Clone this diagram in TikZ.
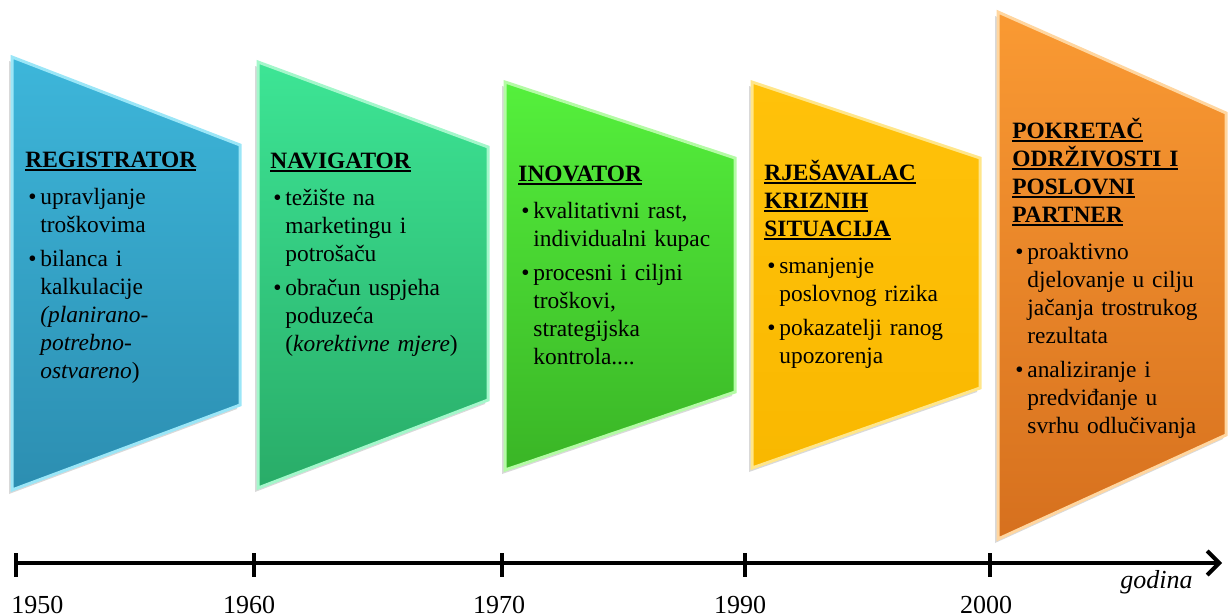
\documentclass[tikz,border=0pt]{standalone}
\usepackage{fontspec}
\setmainfont{Liberation Serif}
\usetikzlibrary{arrows.meta,shadows}

\definecolor{regtop}{HTML}{3DB6DA}
\definecolor{regbot}{HTML}{2C8EB1}
\definecolor{regedge}{HTML}{9BE6F7}
\definecolor{navtop}{HTML}{3DE595}
\definecolor{navbot}{HTML}{29AC68}
\definecolor{navedge}{HTML}{A4F7CB}
\definecolor{inotop}{HTML}{55F03C}
\definecolor{inobot}{HTML}{3AB526}
\definecolor{inoedge}{HTML}{B4FBA5}
\definecolor{rjetop}{HTML}{FFC20A}
\definecolor{rjebot}{HTML}{F9B800}
\definecolor{rjeedge}{HTML}{FFE68A}
\definecolor{poktop}{HTML}{FA9A33}
\definecolor{pokbot}{HTML}{D6701E}
\definecolor{pokedge}{HTML}{FFD6A0}

\newcommand{\phead}[1]{\setbox0=\hbox{\textbf{#1}}\rlap{\vrule width\wd0 height -0.8pt depth 1.8pt}\box0}
\newcommand{\pbullet}{\par\vspace{3pt}\hangindent=7.5pt\hangafter=1\noindent\makebox[7.5pt][l]{\hspace{1.5pt}\textbullet}}
\newcommand{\pgap}{\par\vspace{1.5pt}}

\begin{document}
\begin{tikzpicture}[x=0.5pt,y=-0.5pt]
	\tikzstyle{every node}+=[inner sep=0pt]
	\tikzset{
		panel/.style={top color=#1top, bottom color=#1bot, draw=#1edge, line width=1.5pt,
			drop shadow={shadow xshift=-1.5pt, shadow yshift=-2pt, opacity=0.3}},
		txt/.style={anchor=base west, text width=110pt, align=left,
			font=\fontsize{11.7}{14}\selectfont},
		axis/.style={line width=2pt, -{Straight Barb[length=6pt,width=12pt]}},
		tick/.style={line width=2pt},
		year/.style={anchor=base, font=\fontsize{13}{15}\selectfont}
	}
	\useasboundingbox (0,0) rectangle (1228,616);
	% panels
	\draw[panel=reg] (12,57) -- (240,145) -- (240,405) -- (12,490) -- cycle;
	\draw[panel=nav] (258,62) -- (488,147) -- (488,400) -- (258,488) -- cycle;
	\draw[panel=ino] (505,82) -- (735,158) -- (735,392) -- (505,470) -- cycle;
	\draw[panel=rje] (752,82) -- (980,158) -- (980,388) -- (752,468) -- cycle;
	\draw[panel=pok] (998,12) -- (1226,113) -- (1226,435) -- (998,539) -- cycle;
	% texts
	\node[txt] (reg) at (25,167) {\phead{REGISTRATOR}\pgap
		\pbullet upravljanje\newline troškovima
		\pbullet bilanca i\newline kalkulacije\newline \textit{(planirano-}\newline \textit{potrebno-}\newline \textit{ostvareno})\par};
	\node[txt] (nav) at (270,168) {\phead{NAVIGATOR}\pgap
		\pbullet težište na\newline marketingu i\newline potrošaču
		\pbullet obračun uspjeha\newline poduzeća\newline (\textit{korektivne mjere})\par};
	\node[txt] (ino) at (518,181) {\phead{INOVATOR}\pgap
		\pbullet kvalitativni rast,\newline individualni kupac
		\pbullet procesni i ciljni\newline troškovi,\newline strategijska\newline kontrola....\par};
	\node[txt] (rje) at (764,180) {\phead{RJEŠAVALAC}\newline \phead{KRIZNIH}\newline \phead{SITUACIJA}\pgap
		\pbullet smanjenje\newline poslovnog rizika
		\pbullet pokazatelji ranog\newline upozorenja\par};
	\node[txt] (pok) at (1012,138) {\phead{POKRETAČ}\newline \phead{ODRŽIVOSTI I}\newline \phead{POSLOVNI}\newline \phead{PARTNER}\pgap
		\pbullet proaktivno\newline djelovanje u cilju\newline jačanja trostrukog\newline rezultata
		\pbullet analiziranje i\newline predviđanje u\newline svrhu odlučivanja\par};
	% time axis
	\coordinate (axstart) at (16,563);
	\coordinate (axend) at (1222,563);
	\draw[axis] (axstart) -- (axend);
	\draw[tick] (16,553) -- (16,577);
	\draw[tick] (254,553) -- (254,577);
	\draw[tick] (502,553) -- (502,577);
	\draw[tick] (745,553) -- (745,577);
	\draw[tick] (990,553) -- (990,577);
	\node[year, anchor=base west] (y1950) at (11,613) {1950};
	\node[year] (y1960) at (249,613) {1960};
	\node[year] (y1970) at (499,613) {1970};
	\node[year] (y1990) at (740,613) {1990};
	\node[year] (y2000) at (986,613) {2000};
	\node[year, anchor=base east] (godina) at (1193,588) {\textit{godina}};
\end{tikzpicture}
\end{document}
